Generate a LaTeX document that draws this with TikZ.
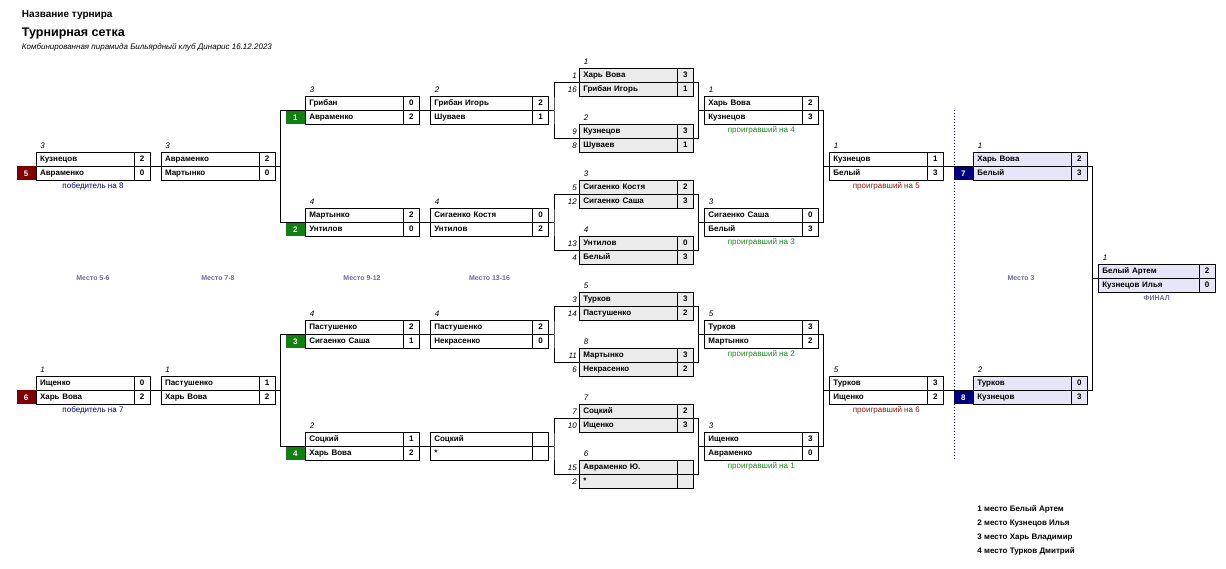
\documentclass[tikz,border=0pt]{standalone}
\usepackage{fontspec}
\setmainfont{Liberation Sans}
\usetikzlibrary{positioning,calc}

\definecolor{tagred}{HTML}{800000}
\definecolor{taggreen}{HTML}{108010}
\definecolor{tagnavy}{HTML}{000080}
\definecolor{cellgray}{HTML}{EBEBEB}
\definecolor{celllav}{HTML}{E6E6F8}
\definecolor{placegray}{HTML}{6A6A96}
\definecolor{losegreen}{HTML}{1A8C1A}
\definecolor{losered}{HTML}{8C1A1A}

\begin{document}
\begin{tikzpicture}[x=1pt, y=-1pt, line width=0.9pt,
    boxcell/.style={draw=black, line width=0.9pt, minimum height=14pt, inner ysep=0pt, outer sep=0pt, text height=6pt, text depth=1.5pt, font=\fontsize{8}{9}\selectfont\bfseries},
    namecell/.style={boxcell, text width=#1, inner xsep=4pt, align=left},
    namecell/.default=90pt,
    scorecell/.style={boxcell, minimum width=16pt, inner xsep=0pt},
    seedtag/.style={minimum width=19pt, minimum height=14pt, inner sep=0pt, text=white, font=\fontsize{8}{9}\selectfont\bfseries},
    roundlbl/.style={anchor=south west, inner sep=0pt, font=\fontsize{8}{9}\selectfont\itshape},
    seednum/.style={anchor=east, inner sep=0pt, font=\fontsize{8}{9}\selectfont\itshape},
    notelbl/.style={anchor=north, inner sep=0pt, yshift=-2pt, font=\fontsize{8}{9}\selectfont},
    placelbl/.style={inner sep=0pt, text=placegray, font=\fontsize{7}{8}\selectfont\bfseries}]
    \useasboundingbox (0,0) rectangle (1226,568);

    %Header
    \node[anchor=west, inner sep=0pt, font=\fontsize{10}{12}\selectfont\bfseries] (hdr) at (21.5,15) {Название турнира};
    \node[anchor=west, inner sep=0pt, font=\fontsize{12.5}{14}\selectfont\bfseries] (ttl) at (21.5,33) {Турнирная сетка};
    \node[anchor=west, inner sep=0pt, font=\fontsize{8}{9}\selectfont\itshape] (sub) at (21.5,47) {Комбинированная пирамида Бильярдный клуб Динарис 16.12.2023};

    %Place 5-6
    \node[namecell, anchor=north west] (m56a1) at (36,152.3) {Кузнецов};
    \node[scorecell]  (m56a1s) [right=0pt of m56a1] {2};
    \node[namecell]   (m56a2)  [below=0pt of m56a1] {Авраменко};
    \node[scorecell]  (m56a2s) [right=0pt of m56a2] {0};
    \node[namecell, anchor=north west] (m56b1) at (36,376.3) {Ищенко};
    \node[scorecell]  (m56b1s) [right=0pt of m56b1] {0};
    \node[namecell]   (m56b2)  [below=0pt of m56b1] {Харь Вова};
    \node[scorecell]  (m56b2s) [right=0pt of m56b2] {2};

    %Place 7-8
    \node[namecell, anchor=north west] (m78a1) at (161,152.3) {Авраменко};
    \node[scorecell]  (m78a1s) [right=0pt of m78a1] {2};
    \node[namecell]   (m78a2)  [below=0pt of m78a1] {Мартынко};
    \node[scorecell]  (m78a2s) [right=0pt of m78a2] {0};
    \node[namecell, anchor=north west] (m78b1) at (161,376.3) {Пастушенко};
    \node[scorecell]  (m78b1s) [right=0pt of m78b1] {1};
    \node[namecell]   (m78b2)  [below=0pt of m78b1] {Харь Вова};
    \node[scorecell]  (m78b2s) [right=0pt of m78b2] {2};

    %Place 9-12
    \node[namecell, anchor=north west] (m912a1) at (305.3,96.3) {Грибан};
    \node[scorecell]  (m912a1s) [right=0pt of m912a1] {0};
    \node[namecell]   (m912a2)  [below=0pt of m912a1] {Авраменко};
    \node[scorecell]  (m912a2s) [right=0pt of m912a2] {2};
    \node[namecell, anchor=north west] (m912b1) at (305.3,208.3) {Мартынко};
    \node[scorecell]  (m912b1s) [right=0pt of m912b1] {2};
    \node[namecell]   (m912b2)  [below=0pt of m912b1] {Унтилов};
    \node[scorecell]  (m912b2s) [right=0pt of m912b2] {0};
    \node[namecell, anchor=north west] (m912c1) at (305.3,320.3) {Пастушенко};
    \node[scorecell]  (m912c1s) [right=0pt of m912c1] {2};
    \node[namecell]   (m912c2)  [below=0pt of m912c1] {Сигаенко Саша};
    \node[scorecell]  (m912c2s) [right=0pt of m912c2] {1};
    \node[namecell, anchor=north west] (m912d1) at (305.3,432.3) {Соцкий};
    \node[scorecell]  (m912d1s) [right=0pt of m912d1] {1};
    \node[namecell]   (m912d2)  [below=0pt of m912d1] {Харь Вова};
    \node[scorecell]  (m912d2s) [right=0pt of m912d2] {2};

    %Place 13-16
    \node[namecell=94.4pt, anchor=north west] (m1316a1) at (430.3,96.3) {Грибан Игорь};
    \node[scorecell]  (m1316a1s) [right=0pt of m1316a1] {2};
    \node[namecell=94.4pt] (m1316a2) [below=0pt of m1316a1] {Шуваев};
    \node[scorecell]  (m1316a2s) [right=0pt of m1316a2] {1};
    \node[namecell=94.4pt, anchor=north west] (m1316b1) at (430.3,208.3) {Сигаенко Костя};
    \node[scorecell]  (m1316b1s) [right=0pt of m1316b1] {0};
    \node[namecell=94.4pt] (m1316b2) [below=0pt of m1316b1] {Унтилов};
    \node[scorecell]  (m1316b2s) [right=0pt of m1316b2] {2};
    \node[namecell=94.4pt, anchor=north west] (m1316c1) at (430.3,320.3) {Пастушенко};
    \node[scorecell]  (m1316c1s) [right=0pt of m1316c1] {2};
    \node[namecell=94.4pt] (m1316c2) [below=0pt of m1316c1] {Некрасенко};
    \node[scorecell]  (m1316c2s) [right=0pt of m1316c2] {0};
    \node[namecell=94.4pt, anchor=north west] (m1316d1) at (430.3,432.3) {Соцкий};
    \node[scorecell]  (m1316d1s) [right=0pt of m1316d1] {};
    \node[namecell=94.4pt] (m1316d2) [below=0pt of m1316d1] {*};
    \node[scorecell]  (m1316d2s) [right=0pt of m1316d2] {};

    %Round 1
    \node[namecell, fill=cellgray, anchor=north west] (r1a1) at (579.3,68.3) {Харь Вова};
    \node[scorecell, fill=cellgray] (r1a1s) [right=0pt of r1a1] {3};
    \node[namecell, fill=cellgray]  (r1a2)  [below=0pt of r1a1] {Грибан Игорь};
    \node[scorecell, fill=cellgray] (r1a2s) [right=0pt of r1a2] {1};
    \node[namecell, fill=cellgray, anchor=north west] (r1b1) at (579.3,124.3) {Кузнецов};
    \node[scorecell, fill=cellgray] (r1b1s) [right=0pt of r1b1] {3};
    \node[namecell, fill=cellgray]  (r1b2)  [below=0pt of r1b1] {Шуваев};
    \node[scorecell, fill=cellgray] (r1b2s) [right=0pt of r1b2] {1};
    \node[namecell, fill=cellgray, anchor=north west] (r1c1) at (579.3,180.3) {Сигаенко Костя};
    \node[scorecell, fill=cellgray] (r1c1s) [right=0pt of r1c1] {2};
    \node[namecell, fill=cellgray]  (r1c2)  [below=0pt of r1c1] {Сигаенко Саша};
    \node[scorecell, fill=cellgray] (r1c2s) [right=0pt of r1c2] {3};
    \node[namecell, fill=cellgray, anchor=north west] (r1d1) at (579.3,236.3) {Унтилов};
    \node[scorecell, fill=cellgray] (r1d1s) [right=0pt of r1d1] {0};
    \node[namecell, fill=cellgray]  (r1d2)  [below=0pt of r1d1] {Белый};
    \node[scorecell, fill=cellgray] (r1d2s) [right=0pt of r1d2] {3};
    \node[namecell, fill=cellgray, anchor=north west] (r1e1) at (579.3,292.3) {Турков};
    \node[scorecell, fill=cellgray] (r1e1s) [right=0pt of r1e1] {3};
    \node[namecell, fill=cellgray]  (r1e2)  [below=0pt of r1e1] {Пастушенко};
    \node[scorecell, fill=cellgray] (r1e2s) [right=0pt of r1e2] {2};
    \node[namecell, fill=cellgray, anchor=north west] (r1f1) at (579.3,348.3) {Мартынко};
    \node[scorecell, fill=cellgray] (r1f1s) [right=0pt of r1f1] {3};
    \node[namecell, fill=cellgray]  (r1f2)  [below=0pt of r1f1] {Некрасенко};
    \node[scorecell, fill=cellgray] (r1f2s) [right=0pt of r1f2] {2};
    \node[namecell, fill=cellgray, anchor=north west] (r1g1) at (579.3,404.3) {Соцкий};
    \node[scorecell, fill=cellgray] (r1g1s) [right=0pt of r1g1] {2};
    \node[namecell, fill=cellgray]  (r1g2)  [below=0pt of r1g1] {Ищенко};
    \node[scorecell, fill=cellgray] (r1g2s) [right=0pt of r1g2] {3};
    \node[namecell, fill=cellgray, anchor=north west] (r1h1) at (579.3,460.3) {Авраменко Ю.};
    \node[scorecell, fill=cellgray] (r1h1s) [right=0pt of r1h1] {};
    \node[namecell, fill=cellgray]  (r1h2)  [below=0pt of r1h1] {*};
    \node[scorecell, fill=cellgray] (r1h2s) [right=0pt of r1h2] {};

    %Round 2
    \node[namecell, anchor=north west] (r2a1) at (704.3,96.3) {Харь Вова};
    \node[scorecell]  (r2a1s) [right=0pt of r2a1] {2};
    \node[namecell]   (r2a2)  [below=0pt of r2a1] {Кузнецов};
    \node[scorecell]  (r2a2s) [right=0pt of r2a2] {3};
    \node[namecell, anchor=north west] (r2b1) at (704.3,208.3) {Сигаенко Саша};
    \node[scorecell]  (r2b1s) [right=0pt of r2b1] {0};
    \node[namecell]   (r2b2)  [below=0pt of r2b1] {Белый};
    \node[scorecell]  (r2b2s) [right=0pt of r2b2] {3};
    \node[namecell, anchor=north west] (r2c1) at (704.3,320.3) {Турков};
    \node[scorecell]  (r2c1s) [right=0pt of r2c1] {3};
    \node[namecell]   (r2c2)  [below=0pt of r2c1] {Мартынко};
    \node[scorecell]  (r2c2s) [right=0pt of r2c2] {2};
    \node[namecell, anchor=north west] (r2d1) at (704.3,432.3) {Ищенко};
    \node[scorecell]  (r2d1s) [right=0pt of r2d1] {3};
    \node[namecell]   (r2d2)  [below=0pt of r2d1] {Авраменко};
    \node[scorecell]  (r2d2s) [right=0pt of r2d2] {0};

    %Round 3
    \node[namecell, anchor=north west] (r3a1) at (829.3,152.3) {Кузнецов};
    \node[scorecell]  (r3a1s) [right=0pt of r3a1] {1};
    \node[namecell]   (r3a2)  [below=0pt of r3a1] {Белый};
    \node[scorecell]  (r3a2s) [right=0pt of r3a2] {3};
    \node[namecell, anchor=north west] (r3b1) at (829.3,376.3) {Турков};
    \node[scorecell]  (r3b1s) [right=0pt of r3b1] {3};
    \node[namecell]   (r3b2)  [below=0pt of r3b1] {Ищенко};
    \node[scorecell]  (r3b2s) [right=0pt of r3b2] {2};

    %Place 3
    \node[namecell, fill=celllav, anchor=north west] (m3a1) at (973.3,152.3) {Харь Вова};
    \node[scorecell, fill=celllav] (m3a1s) [right=0pt of m3a1] {2};
    \node[namecell, fill=celllav]  (m3a2)  [below=0pt of m3a1] {Белый};
    \node[scorecell, fill=celllav] (m3a2s) [right=0pt of m3a2] {3};
    \node[namecell, fill=celllav, anchor=north west] (m3b1) at (973.3,376.3) {Турков};
    \node[scorecell, fill=celllav] (m3b1s) [right=0pt of m3b1] {0};
    \node[namecell, fill=celllav]  (m3b2)  [below=0pt of m3b1] {Кузнецов};
    \node[scorecell, fill=celllav] (m3b2s) [right=0pt of m3b2] {3};

    %Final
    \node[namecell=92.7pt, fill=celllav, anchor=north west] (fin1) at (1098.3,264.3) {Белый Артем};
    \node[scorecell, fill=celllav] (fin1s) [right=0pt of fin1] {2};
    \node[namecell=92.7pt, fill=celllav] (fin2) [below=0pt of fin1] {Кузнецов Илья};
    \node[scorecell, fill=celllav] (fin2s) [right=0pt of fin2] {0};

    %Tags
    \node[seedtag, fill=tagred]   (t5) [left=0pt of m56a2] {5};
    \node[seedtag, fill=tagred]   (t6) [left=0pt of m56b2] {6};
    \node[seedtag, fill=taggreen] (t1) [left=0pt of m912a2] {1};
    \node[seedtag, fill=taggreen] (t2) [left=0pt of m912b2] {2};
    \node[seedtag, fill=taggreen] (t3) [left=0pt of m912c2] {3};
    \node[seedtag, fill=taggreen] (t4) [left=0pt of m912d2] {4};
    \node[seedtag, fill=tagnavy]  (t7) [left=0pt of m3a2] {7};
    \node[seedtag, fill=tagnavy]  (t8) [left=0pt of m3b2] {8};

    %Round labels
    \node[roundlbl] (lm56a) at ([xshift=4pt, yshift=3pt]m56a1.north west) {3};
    \node[roundlbl] (lm56b) at ([xshift=4pt, yshift=3pt]m56b1.north west) {1};
    \node[roundlbl] (lm78a) at ([xshift=4pt, yshift=3pt]m78a1.north west) {3};
    \node[roundlbl] (lm78b) at ([xshift=4pt, yshift=3pt]m78b1.north west) {1};
    \node[roundlbl] (lm912a) at ([xshift=4pt, yshift=3pt]m912a1.north west) {3};
    \node[roundlbl] (lm912b) at ([xshift=4pt, yshift=3pt]m912b1.north west) {4};
    \node[roundlbl] (lm912c) at ([xshift=4pt, yshift=3pt]m912c1.north west) {4};
    \node[roundlbl] (lm912d) at ([xshift=4pt, yshift=3pt]m912d1.north west) {2};
    \node[roundlbl] (lm1316a) at ([xshift=4pt, yshift=3pt]m1316a1.north west) {2};
    \node[roundlbl] (lm1316b) at ([xshift=4pt, yshift=3pt]m1316b1.north west) {4};
    \node[roundlbl] (lm1316c) at ([xshift=4pt, yshift=3pt]m1316c1.north west) {4};
    \node[roundlbl] (lr1a) at ([xshift=4pt, yshift=3pt]r1a1.north west) {1};
    \node[roundlbl] (lr1b) at ([xshift=4pt, yshift=3pt]r1b1.north west) {2};
    \node[roundlbl] (lr1c) at ([xshift=4pt, yshift=3pt]r1c1.north west) {3};
    \node[roundlbl] (lr1d) at ([xshift=4pt, yshift=3pt]r1d1.north west) {4};
    \node[roundlbl] (lr1e) at ([xshift=4pt, yshift=3pt]r1e1.north west) {5};
    \node[roundlbl] (lr1f) at ([xshift=4pt, yshift=3pt]r1f1.north west) {8};
    \node[roundlbl] (lr1g) at ([xshift=4pt, yshift=3pt]r1g1.north west) {7};
    \node[roundlbl] (lr1h) at ([xshift=4pt, yshift=3pt]r1h1.north west) {6};
    \node[roundlbl] (lr2a) at ([xshift=4pt, yshift=3pt]r2a1.north west) {1};
    \node[roundlbl] (lr2b) at ([xshift=4pt, yshift=3pt]r2b1.north west) {3};
    \node[roundlbl] (lr2c) at ([xshift=4pt, yshift=3pt]r2c1.north west) {5};
    \node[roundlbl] (lr2d) at ([xshift=4pt, yshift=3pt]r2d1.north west) {3};
    \node[roundlbl] (lr3a) at ([xshift=4pt, yshift=3pt]r3a1.north west) {1};
    \node[roundlbl] (lr3b) at ([xshift=4pt, yshift=3pt]r3b1.north west) {5};
    \node[roundlbl] (lm3a) at ([xshift=4pt, yshift=3pt]m3a1.north west) {1};
    \node[roundlbl] (lm3b) at ([xshift=4pt, yshift=3pt]m3b1.north west) {2};
    \node[roundlbl] (lfin) at ([xshift=4pt, yshift=3pt]fin1.north west) {1};

    %Seeds
    \node[seednum] (s1)  at ([xshift=-2pt]r1a1.west) {1};
    \node[seednum] (s16) at ([xshift=-2pt]r1a2.west) {16};
    \node[seednum] (s9)  at ([xshift=-2pt]r1b1.west) {9};
    \node[seednum] (s8)  at ([xshift=-2pt]r1b2.west) {8};
    \node[seednum] (s5)  at ([xshift=-2pt]r1c1.west) {5};
    \node[seednum] (s12) at ([xshift=-2pt]r1c2.west) {12};
    \node[seednum] (s13) at ([xshift=-2pt]r1d1.west) {13};
    \node[seednum] (s4)  at ([xshift=-2pt]r1d2.west) {4};
    \node[seednum] (s3)  at ([xshift=-2pt]r1e1.west) {3};
    \node[seednum] (s14) at ([xshift=-2pt]r1e2.west) {14};
    \node[seednum] (s11) at ([xshift=-2pt]r1f1.west) {11};
    \node[seednum] (s6)  at ([xshift=-2pt]r1f2.west) {6};
    \node[seednum] (s7)  at ([xshift=-2pt]r1g1.west) {7};
    \node[seednum] (s10) at ([xshift=-2pt]r1g2.west) {10};
    \node[seednum] (s15) at ([xshift=-2pt]r1h1.west) {15};
    \node[seednum] (s2)  at ([xshift=-2pt]r1h2.west) {2};

    %Notes
    \node[notelbl, text=tagnavy]   (n8) at ($(m56a2.south west)!0.5!(m56a2s.south east)$) {победитель на 8};
    \node[notelbl, text=tagnavy]   (n7) at ($(m56b2.south west)!0.5!(m56b2s.south east)$) {победитель на 7};
    \node[notelbl, text=losegreen] (n4) at ($(r2a2.south west)!0.5!(r2a2s.south east)$) {проигравший на 4};
    \node[notelbl, text=losegreen] (n3) at ($(r2b2.south west)!0.5!(r2b2s.south east)$) {проигравший на 3};
    \node[notelbl, text=losegreen] (n2) at ($(r2c2.south west)!0.5!(r2c2s.south east)$) {проигравший на 2};
    \node[notelbl, text=losegreen] (n1) at ($(r2d2.south west)!0.5!(r2d2s.south east)$) {проигравший на 1};
    \node[notelbl, text=losered]   (n5) at ($(r3a2.south west)!0.5!(r3a2s.south east)$) {проигравший на 5};
    \node[notelbl, text=losered]   (n6) at ($(r3b2.south west)!0.5!(r3b2s.south east)$) {проигравший на 6};
    \node[placelbl, anchor=north, yshift=-3pt] (nfin) at ($(fin2.south west)!0.5!(fin2s.south east)$) {ФИНАЛ};

    %Places
    \node[placelbl] (p56)   at (93,278.3)    {Место 5-6};
    \node[placelbl] (p78)   at (218,278.3)   {Место 7-8};
    \node[placelbl] (p912)  at (362,278.3)   {Место 9-12};
    \node[placelbl] (p1316) at (489.5,278.3) {Место 13-16};
    \node[placelbl] (p3)    at (1021,278.3)  {Место 3};

    %Results
    \node[anchor=west, inner sep=0pt, font=\fontsize{8}{9}\selectfont\bfseries] (res1) at (977,509.3) {1 место Белый Артем};
    \node[anchor=west, inner sep=0pt, font=\fontsize{8}{9}\selectfont\bfseries] (res2) at (977,523.3) {2 место Кузнецов Илья};
    \node[anchor=west, inner sep=0pt, font=\fontsize{8}{9}\selectfont\bfseries] (res3) at (977,537.3) {3 место Харь Владимир};
    \node[anchor=west, inner sep=0pt, font=\fontsize{8}{9}\selectfont\bfseries] (res4) at (977,551.3) {4 место Турков Дмитрий};

    %Lines
    \coordinate (bl1) at (280.7,0);
    \coordinate (bl2) at (554,0);
    \coordinate (br1) at (698.3,0);
    \coordinate (br2) at (823.3,0);
    \coordinate (br3) at (1092.7,0);

    \draw (m56a1s.south east) -- (m78a1.south west);
    \draw (m56b1s.south east) -- (m78b1.south west);
    \draw (m912a1.south west) -| (bl1 |- m78a1s.south east) |- (m912b1.south west);
    \draw (m78a1s.south east) -- (bl1 |- m78a1s.south east);
    \draw (m912c1.south west) -| (bl1 |- m78b1s.south east) |- (m912d1.south west);
    \draw (m78b1s.south east) -- (bl1 |- m78b1s.south east);
    \draw (m912a1s.south east) -- (m1316a1.south west);
    \draw (m912b1s.south east) -- (m1316b1.south west);
    \draw (m912c1s.south east) -- (m1316c1.south west);
    \draw (m912d1s.south east) -- (m1316d1.south west);
    \draw (r1a1.south west) -| (bl2 |- m1316a1s.south east) |- (r1b1.south west);
    \draw (m1316a1s.south east) -- (bl2 |- m1316a1s.south east);
    \draw (r1c1.south west) -| (bl2 |- m1316b1s.south east) |- (r1d1.south west);
    \draw (m1316b1s.south east) -- (bl2 |- m1316b1s.south east);
    \draw (r1e1.south west) -| (bl2 |- m1316c1s.south east) |- (r1f1.south west);
    \draw (m1316c1s.south east) -- (bl2 |- m1316c1s.south east);
    \draw (r1g1.south west) -| (bl2 |- m1316d1s.south east) |- (r1h1.south west);
    \draw (m1316d1s.south east) -- (bl2 |- m1316d1s.south east);
    \draw (r1a1s.south east) -| (br1 |- r2a1.south west) |- (r1b1s.south east);
    \draw (r2a1.south west) -- (br1 |- r2a1.south west);
    \draw (r1c1s.south east) -| (br1 |- r2b1.south west) |- (r1d1s.south east);
    \draw (r2b1.south west) -- (br1 |- r2b1.south west);
    \draw (r1e1s.south east) -| (br1 |- r2c1.south west) |- (r1f1s.south east);
    \draw (r2c1.south west) -- (br1 |- r2c1.south west);
    \draw (r1g1s.south east) -| (br1 |- r2d1.south west) |- (r1h1s.south east);
    \draw (r2d1.south west) -- (br1 |- r2d1.south west);
    \draw (r2a1s.south east) -| (br2 |- r3a1.south west) |- (r2b1s.south east);
    \draw (r3a1.south west) -- (br2 |- r3a1.south west);
    \draw (r2c1s.south east) -| (br2 |- r3b1.south west) |- (r2d1s.south east);
    \draw (r3b1.south west) -- (br2 |- r3b1.south west);
    \draw (r3a1s.south east) -- (m3a1.south west);
    \draw (r3b1s.south east) -- (m3b1.south west);
    \draw (m3a1s.south east) -| (br3 |- fin1.south west) |- (m3b1s.south east);
    \draw (fin1.south west) -- (br3 |- fin1.south west);

    \draw[tagnavy, dotted, line width=1pt] (954.3,110) -- (954.3,460);
\end{tikzpicture}
\end{document}
